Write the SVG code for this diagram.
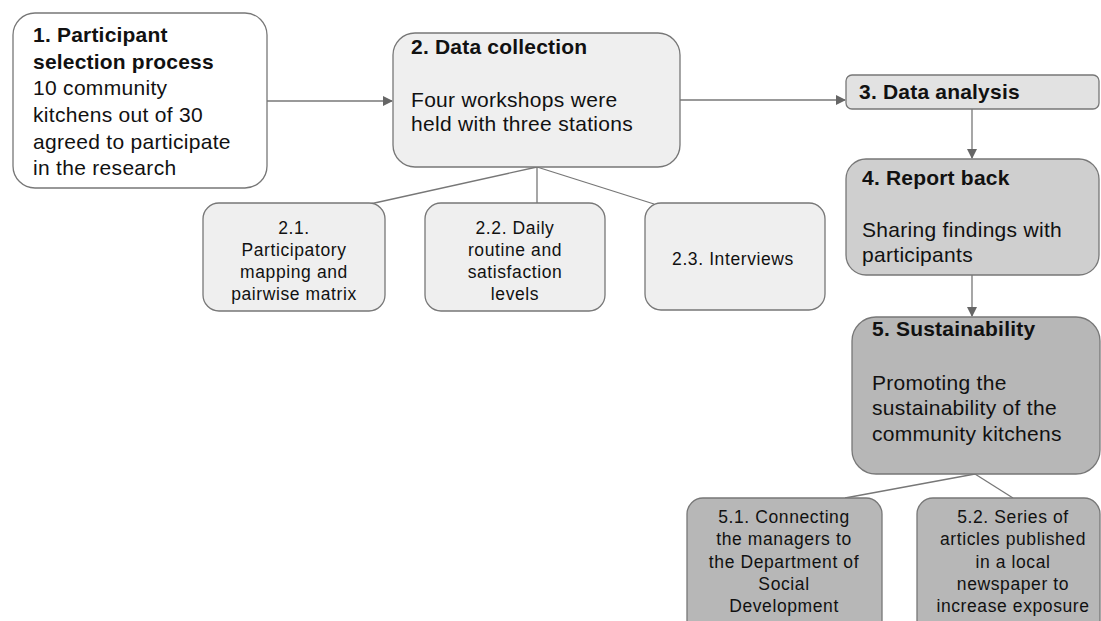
<svg xmlns="http://www.w3.org/2000/svg" width="1101" height="621" viewBox="0 0 1101 621">
<style>
text{font-family:"Liberation Sans",Arial,sans-serif;fill:#111}
.box{stroke:#777;stroke-width:1.3}
.t{font-size:21px;font-weight:bold;letter-spacing:0.2px}
.b{font-size:21px;letter-spacing:0.3px}
.s{font-size:17.5px;text-anchor:middle;letter-spacing:0.6px}
.c{stroke:#777;stroke-width:1.3;fill:none}
</style>
<defs>
<marker id="ah" viewBox="0 0 10 10" refX="9" refY="5" markerWidth="10" markerHeight="10" markerUnits="userSpaceOnUse" orient="auto">
<path d="M0,0 L10,5 L0,10 z" fill="#666"/>
</marker>
</defs>
<rect width="1101" height="621" fill="#fff"/>
<g id="connectors">
<line class="c" x1="267" y1="101" x2="392" y2="101" marker-end="url(#ah)"/>
<line class="c" x1="680" y1="100" x2="845" y2="100" marker-end="url(#ah)"/>
<line class="c" x1="972" y1="109" x2="972" y2="158" marker-end="url(#ah)"/>
<line class="c" x1="972" y1="275" x2="972" y2="316" marker-end="url(#ah)"/>
<line class="c" x1="537" y1="167" x2="370" y2="204"/>
<line class="c" x1="537" y1="167" x2="537" y2="203"/>
<line class="c" x1="537" y1="167" x2="654" y2="204"/>
<line class="c" x1="975" y1="474" x2="845" y2="498"/>
<line class="c" x1="975" y1="474" x2="1013" y2="498"/>
</g>
<g id="n1">
<rect class="box" x="13" y="13" width="254" height="175" rx="22" fill="#fff"/>
<text class="t" x="33" y="42">1. Participant</text>
<text class="t" x="33" y="69">selection process</text>
<text class="b" x="33" y="95">10 community</text>
<text class="b" x="33" y="122">kitchens out of 30</text>
<text class="b" x="33" y="149">agreed to participate</text>
<text class="b" x="33" y="175">in the research</text>
</g>
<g id="n2">
<rect class="box" x="393" y="33" width="287" height="134" rx="22" fill="#efefef"/>
<text class="t" x="411" y="54">2. Data collection</text>
<text class="b" x="411" y="107">Four workshops were</text>
<text class="b" x="411" y="131">held with three stations</text>
</g>
<g id="n3">
<rect class="box" x="846" y="75" width="253" height="34" rx="6" fill="#e2e2e2"/>
<text class="t" x="859" y="99">3. Data analysis</text>
</g>
<g id="n4">
<rect class="box" x="846" y="159" width="253" height="116" rx="20" fill="#cfcfcf"/>
<text class="t" x="862" y="185">4. Report back</text>
<text class="b" x="862" y="237">Sharing findings with</text>
<text class="b" x="862" y="262">participants</text>
</g>
<g id="n5">
<rect class="box" x="852" y="317" width="248" height="157" rx="24" fill="#b7b7b7"/>
<text class="t" x="872" y="336">5. Sustainability</text>
<text class="b" x="872" y="390">Promoting the</text>
<text class="b" x="872" y="415">sustainability of the</text>
<text class="b" x="872" y="441">community kitchens</text>
</g>
<g id="n21">
<rect class="box" x="203" y="203" width="182" height="108" rx="16" fill="#efefef"/>
<text class="s" x="294" y="234">2.1.</text>
<text class="s" x="294" y="256">Participatory</text>
<text class="s" x="294" y="278">mapping and</text>
<text class="s" x="294" y="300">pairwise matrix</text>
</g>
<g id="n22">
<rect class="box" x="425" y="203" width="180" height="108" rx="16" fill="#efefef"/>
<text class="s" x="515" y="234">2.2. Daily</text>
<text class="s" x="515" y="256">routine and</text>
<text class="s" x="515" y="278">satisfaction</text>
<text class="s" x="515" y="300">levels</text>
</g>
<g id="n23">
<rect class="box" x="645" y="203" width="180" height="107" rx="16" fill="#efefef"/>
<text class="s" x="733" y="265">2.3. Interviews</text>
</g>
<g id="n51">
<rect class="box" x="687" y="498" width="195" height="140" rx="16" fill="#b7b7b7"/>
<text class="s" x="784" y="523">5.1. Connecting</text>
<text class="s" x="784" y="545">the managers to</text>
<text class="s" x="784" y="568">the Department of</text>
<text class="s" x="784" y="590">Social</text>
<text class="s" x="784" y="612">Development</text>
</g>
<g id="n52">
<rect class="box" x="917" y="498" width="183" height="140" rx="16" fill="#b7b7b7"/>
<text class="s" x="1013" y="523">5.2. Series of</text>
<text class="s" x="1013" y="545">articles published</text>
<text class="s" x="1013" y="568">in a local</text>
<text class="s" x="1013" y="590">newspaper to</text>
<text class="s" x="1013" y="612">increase exposure</text>
</g>
</svg>
